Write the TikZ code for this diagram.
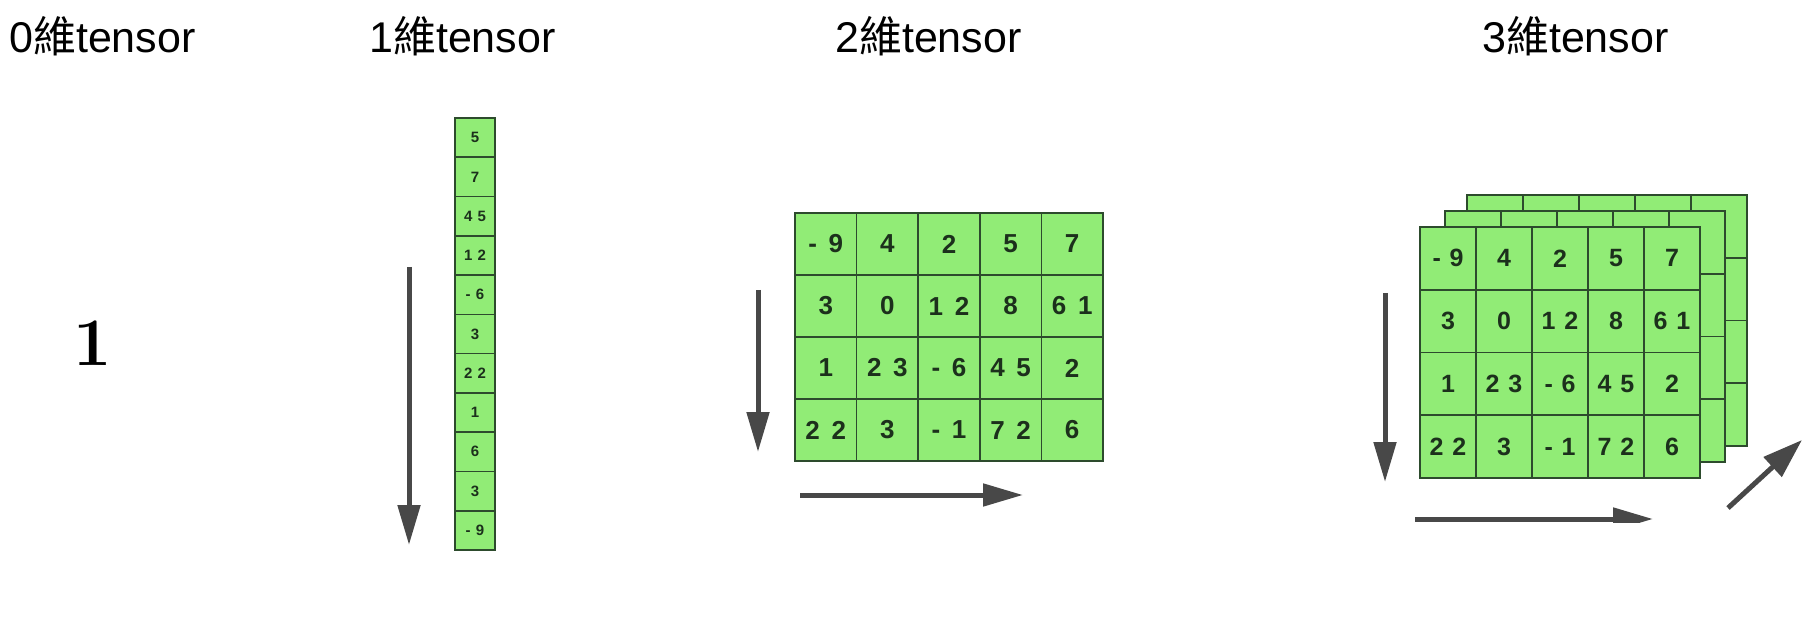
\documentclass[tikz,border=0pt]{standalone}
\usepackage{fontspec}
\usetikzlibrary{arrows.meta}
\newfontfamily\arial{Liberation Sans}
\newfontfamily\cjk{Noto Sans CJK TC}
\definecolor{cellgreen}{RGB}{145,236,118}
\definecolor{gridc}{RGB}{45,75,45}
\definecolor{numc}{RGB}{28,48,28}
\definecolor{arrc}{RGB}{72,72,72}
\newcommand\gp{\hspace{0.45em}}
\newcommand\gq{\hspace{0.35em}}
\begin{document}
\begin{tikzpicture}[x=1pt,y=-1pt,
  title/.style={anchor=base west,inner sep=0pt,font=\arial\fontsize{43}{50}\selectfont},
  cellbase/.style={draw=gridc,fill=cellgreen,line width=1.6pt,inner sep=0pt,text=numc},
  cellA/.style={cellbase,minimum width=40pt,minimum height=39.27pt,font=\arial\bfseries\fontsize{15}{15}\selectfont},
  cellB/.style={cellbase,minimum width=61.6pt,minimum height=62pt,font=\arial\bfseries\fontsize{26}{26}\selectfont},
  cellC/.style={cellbase,minimum width=56pt,minimum height=62.75pt,font=\arial\bfseries\fontsize{25}{25}\selectfont},
  layer/.style={draw=gridc,fill=cellgreen,line width=1.6pt},
  arr/.style={draw=arrc,line width=5pt,-{Triangle[length=40pt,width=22pt]}},
]
\useasboundingbox (0,0) rectangle (1818,644);

% titles
\node[title] (t0) at (9,53) {0{\cjk 維}tensor};
\node[title] (t1) at (369,53) {1{\cjk 維}tensor};
\node[title] (t2) at (835,53) {2{\cjk 維}tensor};
\node[title] (t3) at (1482,53) {3{\cjk 維}tensor};

% 0-d
\node[anchor=base,inner sep=0pt,font=\bfseries\fontsize{68}{70}\selectfont] (zero) at (93,366) {1};

% 1-d
\foreach \v [count=\r] in {5,7,4\gq5,1\gq2,-\gq6,3,2\gq2,1,6,3,-\gq9}
  \node[cellA] (a-\r) at (475,{118+39.27*(\r-0.5)}) {\v};
\coordinate (a1s) at (409,267);
\coordinate (a1e) at (409,545);
\draw[arr] (a1s) -- (a1e);

% 2-d
\foreach \row [count=\r] in {{-\gp9,4,2,5,7},{3,0,1\gp2,8,6\gp1},{1,2\gp3,-\gp6,4\gp5,2},{2\gp2,3,-\gp1,7\gp2,6}}
  \foreach \v [count=\c] in \row
    \node[cellB] (b-\r-\c) at ({795+61.6*(\c-0.5)},{213+62*(\r-0.5)}) {\v};
\coordinate (b1s) at (758,290);
\coordinate (b1e) at (758,452);
\draw[arr] (b1s) -- (b1e);
\coordinate (b2s) at (800,495);
\coordinate (b2e) at (1023,495);
\draw[arr] (b2s) -- (b2e);

% 3-d back layers
\foreach \dx/\dy in {47/-32,25/-16}
  \foreach \r in {1,...,4}
    \foreach \c in {1,...,5}
      \draw[layer] ({1420+\dx+56*(\c-1)},{227+\dy+62.75*(\r-1)}) rectangle ++(56,62.75);
% 3-d front
\foreach \row [count=\r] in {{-\gq9,4,2,5,7},{3,0,1\gq2,8,6\gq1},{1,2\gq3,-\gq6,4\gq5,2},{2\gq2,3,-\gq1,7\gq2,6}}
  \foreach \v [count=\c] in \row
    \node[cellC] (c-\r-\c) at ({1420+56*(\c-0.5)},{227+62.75*(\r-0.5)}) {\v};
\coordinate (c1s) at (1385,293);
\coordinate (c1e) at (1385,482);
\draw[arr] (c1s) -- (c1e);
\coordinate (c2s) at (1415,519);
\coordinate (c2e) at (1653,519);
\draw[arr] (c2s) -- (c2e);
\fill[white] (1590,522.5) rectangle (1670,545);
\coordinate (c3s) at (1728,508);
\coordinate (c3e) at (1802,440);
\draw[arr,-{Triangle[length=40pt,width=26pt]}] (c3s) -- (c3e);
\end{tikzpicture}
\end{document}
